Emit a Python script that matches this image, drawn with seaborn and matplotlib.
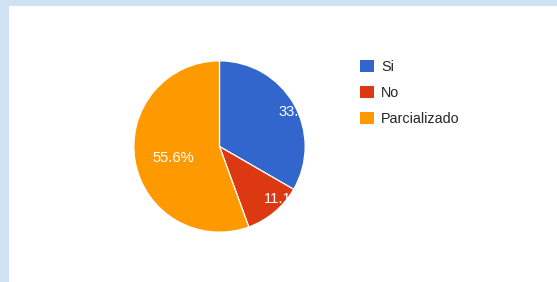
import matplotlib
matplotlib.use("Agg")
import matplotlib.pyplot as plt
from matplotlib.patches import Rectangle
import seaborn as sns

# datos de la encuesta
categorias = ["Si", "No", "Parcializado"]
valores = [3, 1, 5]
colores = ["#3366cc", "#dc3912", "#ff9900"]

sns.set_style("white")
plt.rcParams["font.family"] = ["Liberation Sans", "DejaVu Sans"]

W, H = 557, 282
fig = plt.figure(figsize=(W / 100, H / 100), dpi=100, facecolor="#cfe2f3")
# panel blanco con borde azul claro arriba y a la izquierda
fig.add_artist(Rectangle((9 / W, 0), 1, (H - 6) / H, transform=fig.transFigure,
                         facecolor="white", edgecolor="none", zorder=0))

cx, cy, r = 219.5, 146.5, 86.5
ax = fig.add_axes([(cx - r) / W, (H - cy - r) / H, 2 * r / W, 2 * r / H])
ax.set_facecolor("none")

wedges, texts, autotexts = ax.pie(
    valores, colors=sns.color_palette(colores), startangle=90, counterclock=False,
    autopct="%1.1f%%", pctdistance=0.8, radius=1,
    wedgeprops=dict(edgecolor="white", linewidth=0.9),
    textprops=dict(color="white", fontsize=10.6))
for w, t in zip(wedges, autotexts):
    t.set_ha("left")
    t.set_va("center")
    t.set_clip_path(w)
    t.set_clip_on(True)
ax.set_xlim(-1.01, 1.01)
ax.set_ylim(-1.01, 1.01)
ax.set_aspect("equal")
ax.axis("off")

leg = ax.legend(wedges, categorias, loc="upper left",
                bbox_to_anchor=(360 / W, 1 - 59.5 / H), bbox_transform=fig.transFigure,
                frameon=False, fontsize=10.4, handlelength=0.95, handleheight=0.95,
                handletextpad=0.5, labelspacing=0.83, borderpad=0, borderaxespad=0)
for h in leg.legend_handles:
    h.set_edgecolor("none")

fig.savefig("out.png", dpi=100, facecolor=fig.get_facecolor())
